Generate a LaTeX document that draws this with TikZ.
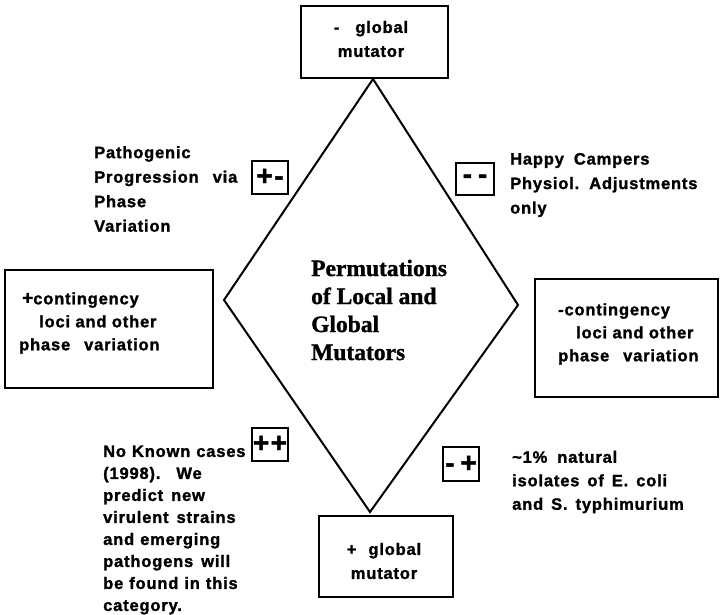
\documentclass[tikz,border=0pt]{standalone}
\usepackage{fontspec}
\setmainfont{Liberation Sans}[LetterSpace=5,BoldFeatures={FakeBold=1.5}]
\newfontfamily\titlefont{Liberation Serif}[BoldFeatures={FakeBold=1.2}]
\begin{document}
\begin{tikzpicture}[x=1pt,y=-1pt,
  box/.style={draw,line width=2pt,inner sep=0pt},
  ann/.style={font=\fontsize{16.5}{24.5}\selectfont\bfseries,align=left,inner sep=0pt,anchor=west},
  boxtext/.style={font=\fontsize{16.5}{24}\selectfont\bfseries,align=center,inner sep=0pt},
  signbox/.style={draw,line width=2pt,inner sep=0pt,font=\fontsize{28}{28}\selectfont\bfseries}
]
\useasboundingbox (0,0) rectangle (720,614);

% outer boxes
\node[box,minimum width=147pt,minimum height=72pt] (topbox) at (374.5,41.5) {};
\node[boxtext] (toptext) at (371,39) {-\hspace{16pt}global\\mutator};

\node[box,minimum width=134pt,minimum height=81pt] (botbox) at (386,556.5) {};
\node[boxtext] (bottext) at (384,561) {+\hspace{12pt}global\\mutator};

\node[box,minimum width=208pt,minimum height=118pt] (leftbox) at (109,329) {};
\node[ann,font=\fontsize{16.5}{23}\selectfont\bfseries] (lefttext) at (19,323) {\hspace{3pt}{\fontsize{19}{23}\selectfont+}contingency\\\hspace{20pt}loci and other\\phase\hspace{14pt}variation};

\node[box,minimum width=183pt,minimum height=118pt] (rightbox) at (626.5,338) {};
\node[ann,font=\fontsize{16.5}{23}\selectfont\bfseries] (righttext) at (558,334) {-contingency\\\hspace{18pt}loci and other\\phase\hspace{14pt}variation};

% diamond
\coordinate (dtop) at (373,79);
\coordinate (dleft) at (224,300);
\coordinate (dright) at (518,305);
\coordinate (dbot) at (370,512);
\draw[line width=2pt,line join=miter] (dtop) -- (dright) -- (dbot) -- (dleft) -- cycle;

\node[font=\fontsize{23.5}{28}\selectfont\titlefont\bfseries,align=left,inner sep=0pt,anchor=west] (title) at (311,310)
  {Permutations\\of Local and\\Global\\Mutators};

% sign boxes
\node[signbox,minimum width=36pt,minimum height=33pt] (pm) at (270,177) {+-};
\node[signbox,minimum width=38pt,minimum height=32pt] (mm) at (475,179) {-\hspace{6pt}-};
\node[signbox,minimum width=36pt,minimum height=33pt] (pp) at (270,444) {++};
\node[signbox,minimum width=36pt,minimum height=34pt] (mp) at (461,464) {-\hspace{6pt}+};

% annotations
\node[ann] (patho) at (94,189) {Pathogenic\\Progression\hspace{14pt}via\\Phase\\Variation};
\node[ann] (happy) at (510,185) {Happy\hspace{10pt}Campers\\Physiol.\hspace{10pt}Adjustments\\only};
\node[ann,font=\fontsize{16.5}{23.5}\selectfont\bfseries] (natural) at (512,482) {\textasciitilde1\%\hspace{10pt}natural\\isolates\hspace{8pt}of\hspace{8pt}E.\hspace{8pt}coli\\and\hspace{8pt}S.\hspace{8pt}typhimurium};
\node[ann,font=\fontsize{16.5}{22}\selectfont\bfseries] (noknown) at (103,530) {No\hspace{6pt}Known\hspace{6pt}cases\\(1998).\hspace{16pt}We\\predict\hspace{8pt}new\\virulent\hspace{8pt}strains\\and\hspace{6pt}emerging\\pathogens\hspace{8pt}will\\be\hspace{6pt}found\hspace{6pt}in\hspace{6pt}this\\category.};
\end{tikzpicture}
\end{document}
